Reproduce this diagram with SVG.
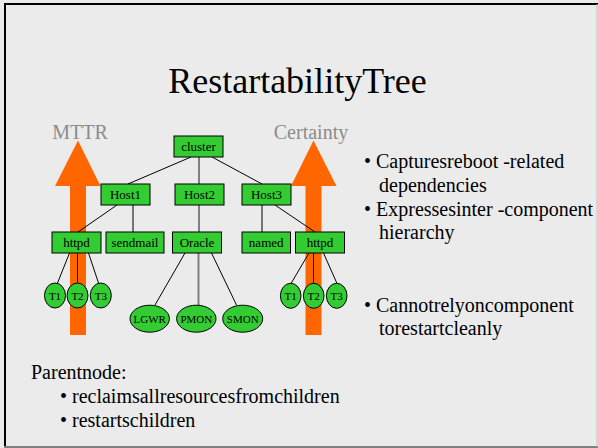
<svg xmlns="http://www.w3.org/2000/svg" width="598" height="448" viewBox="0 0 598 448">
<style>
.t{font-family:"Liberation Serif",serif;fill:#000}
.box{fill:#33cc33;stroke:#000;stroke-width:1}
.nl{font-family:"Liberation Serif",serif;font-size:13px;text-anchor:middle;fill:#000}
.el{font-family:"Liberation Serif",serif;font-size:11px;text-anchor:middle;fill:#000}
.e{stroke:#000;stroke-width:1;fill:none}
.g{stroke:#808080;stroke-width:2;fill:none}
.arr{fill:#ff6600}
.lab{font-family:"Liberation Serif",serif;font-size:20px;fill:#8c8c8c;text-anchor:middle}
.b{font-family:"Liberation Serif",serif;font-size:20px;fill:#000}
</style>
<rect x="0" y="0" width="598" height="448" fill="#ebebeb"/>
<line x1="5" y1="3" x2="5" y2="447" stroke="#000" stroke-width="2"/>
<line x1="4" y1="4" x2="598" y2="4" stroke="#000" stroke-width="2"/>
<line x1="4" y1="447" x2="598" y2="447" stroke="#808080" stroke-width="2"/>
<line x1="597" y1="4" x2="597" y2="447" stroke="#c0c0c0" stroke-width="1"/>

<text class="t" x="297.5" y="93" font-size="36" text-anchor="middle">RestartabilityTree</text>

<g id="arrow-mttr">
<polygon class="arr" points="78,140.5 100.5,186 86,186 86,335 70,335 70,186 55,186"/>
<text class="lab" x="80" y="139">MTTR</text>
</g>
<g id="arrow-certainty">
<polygon class="arr" points="313.5,140.5 336.5,186 321.5,186 321.5,335 305.5,335 305.5,186 291,186"/>
<text class="lab" x="311" y="139">Certainty</text>
</g>

<g id="connectors">
<line class="e" x1="191" y1="157" x2="128" y2="184"/>
<line class="g" x1="199" y1="157" x2="199" y2="184"/>
<line class="e" x1="212" y1="157" x2="262" y2="184"/>
<line class="e" x1="117" y1="205" x2="78" y2="232"/>
<line class="e" x1="133" y1="205" x2="133" y2="232"/>
<line class="g" x1="199" y1="205" x2="199" y2="232"/>
<line class="e" x1="262" y1="205" x2="262" y2="232"/>
<line class="e" x1="275" y1="205" x2="315" y2="232"/>
<line class="e" x1="69.5" y1="253" x2="57.5" y2="283"/>
<line class="e" x1="77.5" y1="253" x2="77.5" y2="283"/>
<line class="e" x1="88.5" y1="253" x2="98.5" y2="283"/>
<line class="e" x1="309" y1="253" x2="291" y2="283.5"/>
<line class="e" x1="313.5" y1="253" x2="313.5" y2="283"/>
<line class="e" x1="323.5" y1="253" x2="337" y2="283.5"/>
<line class="e" x1="185" y1="253" x2="155" y2="305"/>
<line class="g" x1="198.5" y1="253" x2="198.5" y2="305"/>
<line class="e" x1="211.5" y1="253" x2="236.5" y2="305"/>
</g>

<g id="cluster"><rect class="box" x="174" y="136" width="49" height="21"/><text class="nl" x="198.5" y="151">cluster</text></g>
<g id="host1"><rect class="box" x="101" y="184" width="49" height="21"/><text class="nl" x="125.5" y="199">Host1</text></g>
<g id="host2"><rect class="box" x="175" y="184" width="49" height="21"/><text class="nl" x="199.5" y="199">Host2</text></g>
<g id="host3"><rect class="box" x="242" y="184" width="49" height="21"/><text class="nl" x="266.5" y="199">Host3</text></g>
<g id="httpd1"><rect class="box" x="52" y="232" width="49" height="21"/><text class="nl" x="76.5" y="247">httpd</text></g>
<g id="sendmail"><rect class="box" x="106" y="232" width="58" height="21"/><text class="nl" x="135" y="247">sendmail</text></g>
<g id="oracle"><rect class="box" x="172.5" y="232" width="49" height="21"/><text class="nl" x="197" y="247">Oracle</text></g>
<g id="named"><rect class="box" x="242" y="232" width="48.5" height="21"/><text class="nl" x="266.2" y="247">named</text></g>
<g id="httpd2"><rect class="box" x="295.5" y="232" width="49" height="21"/><text class="nl" x="320" y="247">httpd</text></g>

<g id="t1a"><ellipse class="box" cx="55" cy="295.5" rx="10.5" ry="12.5"/><text class="el" x="55" y="299.5">T1</text></g>
<g id="t2a"><ellipse class="box" cx="77.5" cy="295.5" rx="10.5" ry="12.5"/><text class="el" x="77.5" y="299.5">T2</text></g>
<g id="t3a"><ellipse class="box" cx="100.8" cy="295.5" rx="10.5" ry="12.5"/><text class="el" x="100.8" y="299.5">T3</text></g>
<g id="t1b"><ellipse class="box" cx="290.7" cy="295.8" rx="10.3" ry="12.5"/><text class="el" x="290.7" y="299.8">T1</text></g>
<g id="t2b"><ellipse class="box" cx="313.7" cy="295.8" rx="10.3" ry="12.5"/><text class="el" x="313.7" y="299.8">T2</text></g>
<g id="t3b"><ellipse class="box" cx="336.7" cy="295.8" rx="10.3" ry="12.5"/><text class="el" x="336.7" y="299.8">T3</text></g>
<g id="lgwr"><ellipse class="box" cx="149.7" cy="318.7" rx="19.7" ry="13.5"/><text class="el" x="149.7" y="322.7">LGWR</text></g>
<g id="pmon"><ellipse class="box" cx="196.3" cy="318.7" rx="19.7" ry="13.5"/><text class="el" x="196.3" y="322.7">PMON</text></g>
<g id="smon"><ellipse class="box" cx="242.7" cy="318.7" rx="20" ry="13.5"/><text class="el" x="242.7" y="322.7">SMON</text></g>

<g id="bullets">
<text class="b" x="364" y="168">• Capturesreboot -related</text>
<text class="b" x="379" y="191.5">dependencies</text>
<text class="b" x="364" y="215.5">• Expressesinter -component</text>
<text class="b" x="379" y="239">hierarchy</text>
<text class="b" x="364" y="311.5">• Cannotrelyoncomponent</text>
<text class="b" x="379" y="335">torestartcleanly</text>
<text class="b" x="31" y="378.5">Parentnode:</text>
<text class="b" x="60" y="403">• reclaimsallresourcesfromchildren</text>
<text class="b" x="60" y="426.5">• restartschildren</text>
</g>
</svg>
